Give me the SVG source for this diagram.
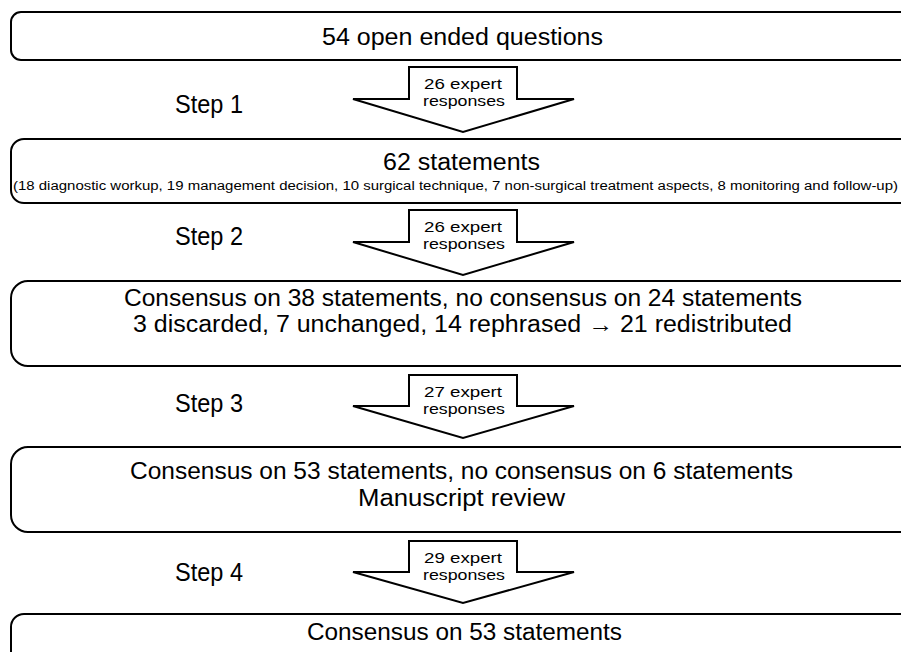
<svg xmlns="http://www.w3.org/2000/svg" width="901" height="652" viewBox="0 0 901 652">
<style>
.box{fill:#fff;stroke:#000;stroke-width:2}
.arr{fill:#fff;stroke:#000;stroke-width:2;stroke-linejoin:miter}
text{font-family:"Liberation Sans","Open Sans",sans-serif;fill:#000;text-anchor:middle}
.big{font-size:23px}
.step{font-size:25px}
.lab{font-size:15px}
.small{font-size:12.5px}
</style>
<rect width="901" height="652" fill="#fff"/>
<g id="connectors">
<g id="arrow1"><polygon class="arr" points="409,67 517,67 517,99 574,99 463,132 353,99 409,99"/>
<text class="lab" x="463" y="89" textLength="78" lengthAdjust="spacingAndGlyphs">26 expert</text>
<text class="lab" x="464" y="106" textLength="82" lengthAdjust="spacingAndGlyphs">responses</text></g>
<g id="arrow2"><polygon class="arr" points="409,210 517,210 517,242 574,242 463,275 353,242 409,242"/>
<text class="lab" x="463" y="232" textLength="78" lengthAdjust="spacingAndGlyphs">26 expert</text>
<text class="lab" x="464" y="249" textLength="82" lengthAdjust="spacingAndGlyphs">responses</text></g>
<g id="arrow3"><polygon class="arr" points="409,375 517,375 517,406 574,406 463,438 353,406 409,406"/>
<text class="lab" x="463" y="397" textLength="78" lengthAdjust="spacingAndGlyphs">27 expert</text>
<text class="lab" x="464" y="414" textLength="82" lengthAdjust="spacingAndGlyphs">responses</text></g>
<g id="arrow4"><polygon class="arr" points="409,541 517,541 517,572 574,572 463,603 353,572 409,572"/>
<text class="lab" x="463" y="563" textLength="78" lengthAdjust="spacingAndGlyphs">29 expert</text>
<text class="lab" x="464" y="580" textLength="82" lengthAdjust="spacingAndGlyphs">responses</text></g>
</g>
<g id="step1"><text class="step" x="209" y="113" textLength="68" lengthAdjust="spacingAndGlyphs">Step 1</text></g>
<g id="step2"><text class="step" x="209" y="245" textLength="68" lengthAdjust="spacingAndGlyphs">Step 2</text></g>
<g id="step3"><text class="step" x="209" y="412" textLength="68" lengthAdjust="spacingAndGlyphs">Step 3</text></g>
<g id="step4"><text class="step" x="209" y="581" textLength="68" lengthAdjust="spacingAndGlyphs">Step 4</text></g>
<g id="box1"><rect class="box" x="11" y="12" width="930" height="48" rx="10"/>
<text class="big" x="462.5" y="45" textLength="281" lengthAdjust="spacingAndGlyphs">54 open ended questions</text></g>
<g id="box2"><rect class="box" x="11" y="139" width="930" height="64" rx="13"/>
<text class="big" x="461.5" y="170" textLength="157" lengthAdjust="spacingAndGlyphs">62 statements</text>
<text class="small" x="455.5" y="190" textLength="885" lengthAdjust="spacingAndGlyphs">(18 diagnostic workup, 19 management decision, 10 surgical technique, 7 non-surgical treatment aspects, 8 monitoring and follow-up)</text></g>
<g id="box3"><rect class="box" x="11" y="281" width="930" height="85" rx="17"/>
<text class="big" x="463" y="306" textLength="678" lengthAdjust="spacingAndGlyphs">Consensus on 38 statements, no consensus on 24 statements</text>
<text class="big" x="462.5" y="332" textLength="659" lengthAdjust="spacingAndGlyphs">3 discarded, 7 unchanged, 14 rephrased → 21 redistributed</text></g>
<g id="box4"><rect class="box" x="11" y="447" width="930" height="85" rx="17"/>
<text class="big" x="461.5" y="479" textLength="663" lengthAdjust="spacingAndGlyphs">Consensus on 53 statements, no consensus on 6 statements</text>
<text class="big" x="461.5" y="506" textLength="207" lengthAdjust="spacingAndGlyphs">Manuscript review</text></g>
<g id="box5"><rect class="box" x="11" y="614" width="930" height="80" rx="13"/>
<text class="big" x="464.5" y="640" textLength="315" lengthAdjust="spacingAndGlyphs">Consensus on 53 statements</text></g>
</svg>
